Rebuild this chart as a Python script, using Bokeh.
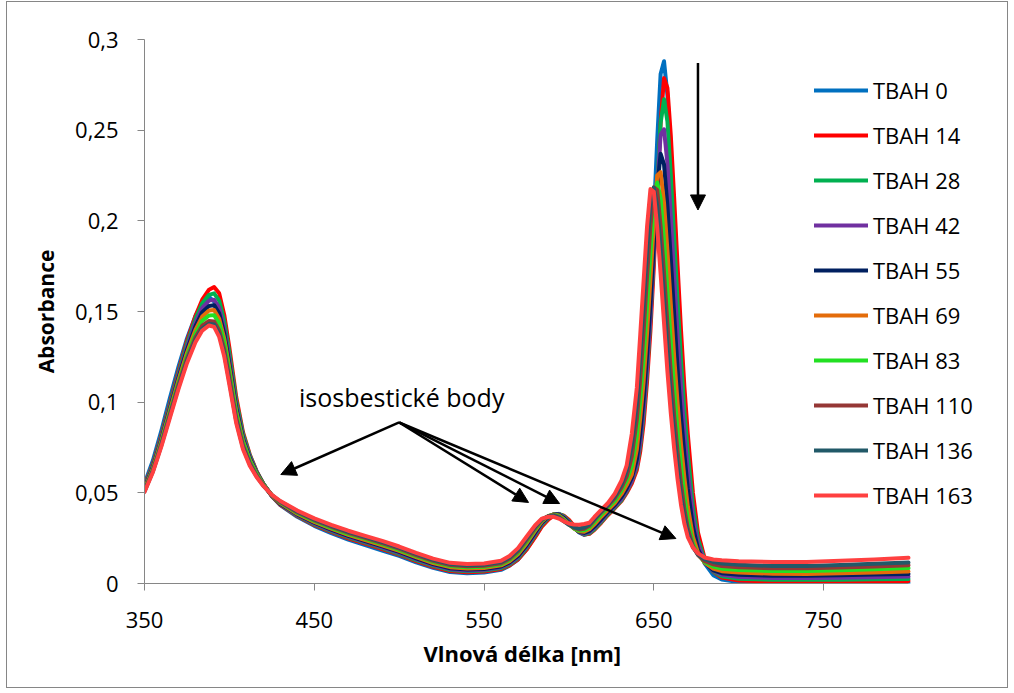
from bokeh.plotting import figure
from bokeh.models import (Range1d, FixedTicker, Legend, LegendItem, Arrow, NormalHead,
                          Label, Title, CustomJSTickFormatter)
from bokeh.embed import file_html
from bokeh.resources import INLINE

# ---------------- data ----------------
wavelength = [350, 355, 360, 365, 370, 375, 380, 384, 388, 391, 394, 397, 400, 404, 408, 412,
              416, 420, 425, 430, 440, 450, 460, 470, 480, 490, 500, 510, 520, 530, 540, 550,
              560, 565, 570, 575, 580, 584, 588, 591, 594, 597, 600, 603, 606, 609,
              612, 615, 619, 623, 627, 631, 634, 637, 640, 642, 644, 646, 648, 650, 652, 654,
              656, 658, 660, 662, 664, 666, 668, 670, 673, 676, 680, 685,
              690, 700, 720, 740, 760, 780, 800]

tbah_0 = [0.0550, 0.0680, 0.0845, 0.1025, 0.1195, 0.1350, 0.1475, 0.1548, 0.1580, 0.1555, 0.1465, 0.1325, 0.1165, 0.0955, 0.0805, 0.0700,
          0.0615, 0.0548, 0.0482, 0.0432, 0.0368, 0.0318, 0.0278, 0.0242, 0.0212, 0.0182, 0.0152, 0.0117, 0.0086, 0.0063, 0.0056, 0.0060,
          0.0075, 0.0098, 0.0132, 0.0188, 0.0258, 0.0318, 0.0358, 0.0376, 0.0382, 0.0372, 0.0347, 0.0312, 0.0282, 0.0268,
          0.0275, 0.0300, 0.0340, 0.0384, 0.0420, 0.0465, 0.0516, 0.0582, 0.0688, 0.0820, 0.1020, 0.1286, 0.1624, 0.2027, 0.2446, 0.2810,
          0.2880, 0.2695, 0.2358, 0.1976, 0.1592, 0.1257, 0.0957, 0.0710, 0.0413, 0.0224, 0.0110, 0.0046,
          0.0022, 0.0008, 0.0003, 0.0002, 0.0002, 0.0003, 0.0003]

tbah_14 = [0.0540, 0.0660, 0.0820, 0.0995, 0.1170, 0.1335, 0.1475, 0.1565, 0.1620, 0.1635, 0.1600, 0.1480, 0.1300, 0.1030, 0.0835, 0.0712,
           0.0620, 0.0550, 0.0482, 0.0434, 0.0372, 0.0323, 0.0284, 0.0249, 0.0220, 0.0190, 0.0159, 0.0124, 0.0092, 0.0069, 0.0062, 0.0066,
           0.0080, 0.0100, 0.0133, 0.0186, 0.0254, 0.0313, 0.0354, 0.0374, 0.0382, 0.0374, 0.0351, 0.0317, 0.0286, 0.0270,
           0.0274, 0.0296, 0.0335, 0.0378, 0.0415, 0.0455, 0.0499, 0.0551, 0.0626, 0.0729, 0.0884, 0.1113, 0.1395, 0.1748, 0.2152, 0.2542,
           0.2787, 0.2733, 0.2470, 0.2122, 0.1750, 0.1398, 0.1085, 0.0825, 0.0502, 0.0281, 0.0136, 0.0065,
           0.0033, 0.0016, 0.0011, 0.0011, 0.0012, 0.0013, 0.0014]

tbah_28 = [0.0535, 0.0655, 0.0812, 0.0985, 0.1158, 0.1320, 0.1458, 0.1545, 0.1592, 0.1600, 0.1560, 0.1445, 0.1270, 0.1010, 0.0825, 0.0707,
           0.0618, 0.0550, 0.0483, 0.0436, 0.0375, 0.0327, 0.0289, 0.0254, 0.0225, 0.0195, 0.0164, 0.0129, 0.0097, 0.0074, 0.0067, 0.0071,
           0.0085, 0.0106, 0.0140, 0.0196, 0.0265, 0.0324, 0.0362, 0.0380, 0.0384, 0.0370, 0.0344, 0.0310, 0.0284, 0.0272,
           0.0278, 0.0300, 0.0340, 0.0383, 0.0419, 0.0460, 0.0507, 0.0563, 0.0644, 0.0760, 0.0933, 0.1163, 0.1458, 0.1810, 0.2190, 0.2540,
           0.2670, 0.2548, 0.2250, 0.1903, 0.1550, 0.1233, 0.0948, 0.0716, 0.0429, 0.0243, 0.0128, 0.0067,
           0.0040, 0.0026, 0.0021, 0.0020, 0.0021, 0.0023, 0.0025]

tbah_42 = [0.0530, 0.0648, 0.0803, 0.0975, 0.1145, 0.1303, 0.1438, 0.1520, 0.1560, 0.1565, 0.1520, 0.1405, 0.1235, 0.0985, 0.0810, 0.0698,
           0.0614, 0.0549, 0.0484, 0.0438, 0.0378, 0.0331, 0.0293, 0.0259, 0.0230, 0.0200, 0.0169, 0.0134, 0.0102, 0.0079, 0.0072, 0.0076,
           0.0090, 0.0111, 0.0146, 0.0203, 0.0272, 0.0330, 0.0366, 0.0381, 0.0382, 0.0366, 0.0339, 0.0307, 0.0284, 0.0275,
           0.0283, 0.0307, 0.0347, 0.0390, 0.0425, 0.0467, 0.0513, 0.0566, 0.0656, 0.0782, 0.0962, 0.1190, 0.1478, 0.1820, 0.2173, 0.2475,
           0.2505, 0.2317, 0.2022, 0.1692, 0.1367, 0.1082, 0.0829, 0.0620, 0.0370, 0.0216, 0.0121, 0.0070,
           0.0048, 0.0036, 0.0031, 0.0030, 0.0032, 0.0035, 0.0038]

tbah_55 = [0.0525, 0.0642, 0.0795, 0.0965, 0.1133, 0.1288, 0.1418, 0.1496, 0.1530, 0.1535, 0.1490, 0.1378, 0.1210, 0.0968, 0.0798, 0.0690,
           0.0610, 0.0548, 0.0485, 0.0440, 0.0381, 0.0335, 0.0297, 0.0263, 0.0234, 0.0205, 0.0174, 0.0139, 0.0107, 0.0084, 0.0077, 0.0080,
           0.0094, 0.0116, 0.0152, 0.0210, 0.0279, 0.0335, 0.0369, 0.0382, 0.0380, 0.0362, 0.0335, 0.0305, 0.0285, 0.0279,
           0.0289, 0.0314, 0.0355, 0.0396, 0.0433, 0.0478, 0.0524, 0.0582, 0.0685, 0.0829, 0.1021, 0.1259, 0.1546, 0.1872, 0.2184, 0.2370,
           0.2311, 0.2082, 0.1789, 0.1480, 0.1184, 0.0925, 0.0712, 0.0524, 0.0314, 0.0190, 0.0114, 0.0073,
           0.0057, 0.0048, 0.0043, 0.0043, 0.0045, 0.0049, 0.0053]

tbah_69 = [0.0520, 0.0636, 0.0788, 0.0955, 0.1120, 0.1272, 0.1398, 0.1472, 0.1505, 0.1508, 0.1460, 0.1350, 0.1185, 0.0950, 0.0786, 0.0682,
           0.0606, 0.0546, 0.0486, 0.0443, 0.0385, 0.0340, 0.0302, 0.0268, 0.0240, 0.0211, 0.0180, 0.0145, 0.0113, 0.0090, 0.0083, 0.0086,
           0.0100, 0.0123, 0.0161, 0.0221, 0.0290, 0.0342, 0.0372, 0.0381, 0.0375, 0.0355, 0.0329, 0.0303, 0.0288, 0.0286,
           0.0299, 0.0326, 0.0368, 0.0406, 0.0444, 0.0494, 0.0543, 0.0600, 0.0740, 0.0914, 0.1116, 0.1381, 0.1678, 0.1985, 0.2250, 0.2268,
           0.2100, 0.1836, 0.1541, 0.1249, 0.0995, 0.0769, 0.0583, 0.0425, 0.0259, 0.0170, 0.0114, 0.0082,
           0.0068, 0.0060, 0.0054, 0.0053, 0.0056, 0.0061, 0.0066]

tbah_83 = [0.0515, 0.0630, 0.0780, 0.0945, 0.1107, 0.1256, 0.1378, 0.1448, 0.1478, 0.1480, 0.1435, 0.1328, 0.1168, 0.0940, 0.0780, 0.0678,
           0.0604, 0.0546, 0.0487, 0.0446, 0.0389, 0.0345, 0.0307, 0.0274, 0.0246, 0.0217, 0.0186, 0.0151, 0.0119, 0.0096, 0.0089, 0.0092,
           0.0106, 0.0130, 0.0169, 0.0230, 0.0298, 0.0347, 0.0373, 0.0380, 0.0372, 0.0351, 0.0327, 0.0304, 0.0292, 0.0293,
           0.0308, 0.0338, 0.0380, 0.0418, 0.0456, 0.0514, 0.0567, 0.0648, 0.0816, 0.1015, 0.1250, 0.1532, 0.1825, 0.2095, 0.2211, 0.2123,
           0.1889, 0.1614, 0.1330, 0.1067, 0.0837, 0.0650, 0.0483, 0.0353, 0.0223, 0.0160, 0.0117, 0.0094,
           0.0082, 0.0075, 0.0069, 0.0069, 0.0073, 0.0079, 0.0085]

tbah_110 = [0.0512, 0.0625, 0.0772, 0.0934, 0.1094, 0.1240, 0.1358, 0.1422, 0.1448, 0.1445, 0.1395, 0.1290, 0.1135, 0.0915, 0.0762, 0.0665,
            0.0596, 0.0542, 0.0487, 0.0449, 0.0393, 0.0350, 0.0313, 0.0280, 0.0252, 0.0223, 0.0192, 0.0157, 0.0125, 0.0102, 0.0095, 0.0098,
            0.0112, 0.0137, 0.0178, 0.0240, 0.0306, 0.0351, 0.0372, 0.0377, 0.0367, 0.0346, 0.0325, 0.0307, 0.0298, 0.0302,
            0.0318, 0.0350, 0.0393, 0.0429, 0.0471, 0.0530, 0.0590, 0.0699, 0.0906, 0.1129, 0.1392, 0.1693, 0.1971, 0.2185, 0.2170, 0.1968,
            0.1713, 0.1435, 0.1162, 0.0926, 0.0725, 0.0552, 0.0410, 0.0304, 0.0207, 0.0157, 0.0123, 0.0106,
            0.0096, 0.0089, 0.0084, 0.0084, 0.0088, 0.0094, 0.0101]

tbah_136 = [0.0508, 0.0620, 0.0765, 0.0925, 0.1083, 0.1227, 0.1343, 0.1406, 0.1432, 0.1428, 0.1375, 0.1268, 0.1112, 0.0898, 0.0750, 0.0657,
            0.0591, 0.0540, 0.0488, 0.0452, 0.0397, 0.0354, 0.0318, 0.0285, 0.0257, 0.0229, 0.0198, 0.0163, 0.0131, 0.0108, 0.0101, 0.0104,
            0.0118, 0.0144, 0.0185, 0.0248, 0.0312, 0.0354, 0.0371, 0.0374, 0.0363, 0.0343, 0.0324, 0.0310, 0.0303, 0.0309,
            0.0325, 0.0356, 0.0398, 0.0434, 0.0481, 0.0547, 0.0622, 0.0760, 0.0991, 0.1252, 0.1535, 0.1837, 0.2090, 0.2183, 0.2082, 0.1842,
            0.1572, 0.1298, 0.1046, 0.0826, 0.0647, 0.0487, 0.0366, 0.0277, 0.0200, 0.0161, 0.0133, 0.0119,
            0.0110, 0.0103, 0.0097, 0.0097, 0.0102, 0.0109, 0.0116]

tbah_163 = [0.0505, 0.0615, 0.0757, 0.0915, 0.1072, 0.1215, 0.1330, 0.1395, 0.1423, 0.1415, 0.1360, 0.1250, 0.1095, 0.0885, 0.0740, 0.0650,
            0.0587, 0.0538, 0.0489, 0.0455, 0.0402, 0.0359, 0.0323, 0.0291, 0.0263, 0.0235, 0.0204, 0.0169, 0.0137, 0.0114, 0.0107, 0.0110,
            0.0125, 0.0152, 0.0195, 0.0258, 0.0320, 0.0358, 0.0368, 0.0368, 0.0358, 0.0343, 0.0331, 0.0325, 0.0324, 0.0328,
            0.0335, 0.0367, 0.0406, 0.0444, 0.0495, 0.0568, 0.0652, 0.0824, 0.1081, 0.1372, 0.1672, 0.1968, 0.2175, 0.2160, 0.1961, 0.1708,
            0.1437, 0.1170, 0.0939, 0.0742, 0.0573, 0.0434, 0.0329, 0.0256, 0.0199, 0.0166, 0.0143, 0.0132,
            0.0128, 0.0123, 0.0118, 0.0119, 0.0125, 0.0133, 0.0142]

series_names = ["TBAH 0", "TBAH 14", "TBAH 28", "TBAH 42", "TBAH 55",
                "TBAH 69", "TBAH 83", "TBAH 110", "TBAH 136", "TBAH 163"]
series_values = [tbah_0, tbah_14, tbah_28, tbah_42, tbah_55,
                 tbah_69, tbah_83, tbah_110, tbah_136, tbah_163]
series_colors = ["#0070C0", "#FF0000", "#00B050", "#7030A0", "#002060",
                 "#E46C0A", "#22E022", "#953735", "#215968", "#FF4040"]

x_ticks = [350, 450, 550, 650, 750]
x_tick_labels = ["350", "450", "550", "650", "750"]
y_ticks = [0, 0.05, 0.1, 0.15, 0.2, 0.25, 0.3]
y_tick_labels = ["0", "0,05", "0,1", "0,15", "0,2", "0,25", "0,3"]
x_title = "Vlnová délka [nm]"
y_title = "Absorbance"

annotation_text = "isosbestické body"
annotation_pos = (441, 0.1026)
arrow_origin = (500, 0.0888)
arrow_targets = [(430.3, 0.0601), (576.2, 0.0447), (594.5, 0.0441), (663.0, 0.0248)]
trend_arrow = ((676, 0.287), (676, 0.206))

for v in series_values:
    if len(v) != len(wavelength):
        raise ValueError("length mismatch %d" % len(v))

# ---------------- figure ----------------
FONT = "Open Sans"
AXIS_GRAY = "#868686"

# canvas sits inside a 1px grey chart-area border (page x 7..1009, y 2..689)
p = figure(width=1002, height=687, output_backend="svg", toolbar_location=None,
           x_range=Range1d(350, 858.9), y_range=Range1d(0, 0.3),
           min_border_left=137, min_border_right=1, min_border_top=37, min_border_bottom=106)
p.styles = {"border": "1px solid #868686", "margin-left": "6px", "margin-top": "1px"}
p.outline_line_color = None
p.xgrid.visible = False
p.ygrid.visible = False
p.background_fill_color = "white"
p.border_fill_color = "white"

renderers = []
for name, vals, col in zip(series_names, series_values, series_colors):
    r = p.line(wavelength, vals, line_color=col, line_width=4, line_join="round", line_cap="round")
    renderers.append(r)


def tick_fmt(tick_values, tick_texts):
    return CustomJSTickFormatter(args=dict(tv=tick_values, lab=tick_texts), code="""
        const i = tv.findIndex(t => Math.abs(t - tick) < 1e-9);
        return i >= 0 ? lab[i] : '';
    """)


for ax in (p.xaxis[0], p.yaxis[0]):
    ax.axis_line_color = AXIS_GRAY
    ax.major_tick_line_color = AXIS_GRAY
    ax.minor_tick_line_color = None
    ax.major_tick_in = 0
    ax.major_tick_out = 7
    ax.major_label_text_font = FONT
    ax.major_label_text_font_size = "22px"
    ax.major_label_text_color = "black"
    ax.axis_label_text_font = FONT
    ax.axis_label_text_font_size = "21px"
    ax.axis_label_text_font_style = "bold"
    ax.axis_label_text_color = "black"

p.xaxis.bounds = (350, 800)
p.xaxis.ticker = FixedTicker(ticks=x_ticks)
p.xaxis.formatter = tick_fmt(x_ticks, x_tick_labels)
p.xaxis.major_label_standoff = 21

# x-axis title placed under the 350-800 axis (not centred on the wider frame)
p.add_layout(Title(text=x_title, align="left", offset=279, standoff=11,
                   text_font=FONT, text_font_size="22px", text_font_style="bold",
                   text_color="black"), "below")

p.yaxis.ticker = FixedTicker(ticks=y_ticks)
p.yaxis.formatter = tick_fmt(y_ticks, y_tick_labels)
p.yaxis.major_label_standoff = 19
p.yaxis.axis_label = y_title
p.yaxis.axis_label_standoff = 12

legend = Legend(items=[LegendItem(label=n, renderers=[r]) for n, r in zip(series_names, renderers)],
                location=(670, 73), orientation="vertical",
                label_text_font=FONT, label_text_font_size="22px", label_text_color="black",
                glyph_width=54, glyph_height=30, label_height=30, label_standoff=5,
                spacing=15, padding=0, margin=0,
                border_line_color=None, background_fill_alpha=0)
p.add_layout(legend)

p.add_layout(Label(x=annotation_pos[0], y=annotation_pos[1], text=annotation_text,
                   text_font=FONT, text_font_size="25px", text_color="black",
                   text_baseline="middle", text_align="left"))
for tx, ty in arrow_targets:
    p.add_layout(Arrow(end=NormalHead(size=15, fill_color="black", line_color="black"),
                       x_start=arrow_origin[0], y_start=arrow_origin[1], x_end=tx, y_end=ty,
                       line_color="black", line_width=2.5))
p.add_layout(Arrow(end=NormalHead(size=15, fill_color="black", line_color="black"),
                   x_start=trend_arrow[0][0], y_start=trend_arrow[0][1],
                   x_end=trend_arrow[1][0], y_end=trend_arrow[1][1],
                   line_color="black", line_width=2.5))

open("out.html", "w").write(file_html(p, INLINE))
